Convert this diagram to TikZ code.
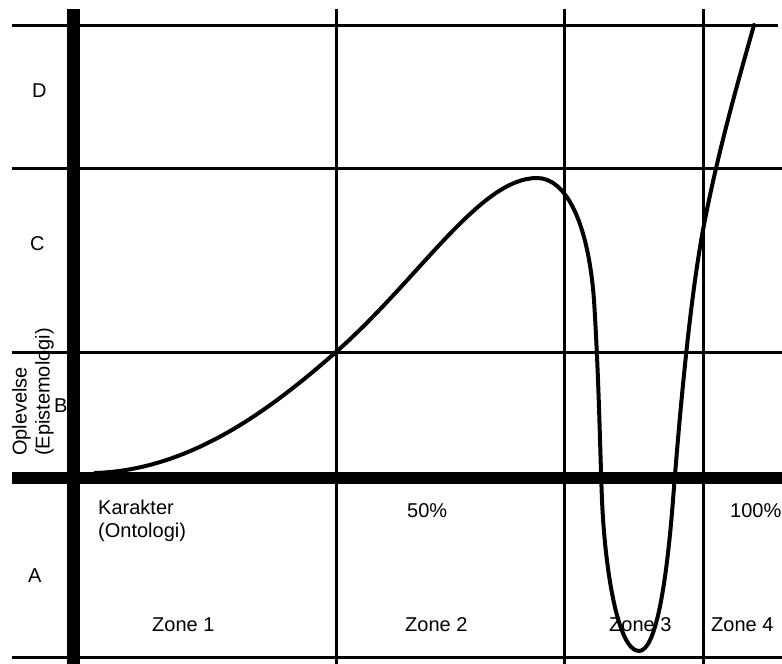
\documentclass[tikz,border=0pt]{standalone}
\usepackage{fontspec}
\setmainfont{Liberation Sans}
\begin{document}
\begin{tikzpicture}[x=1pt,y=-1pt,
  gridline/.style={line width=3pt},
  heavyline/.style={line width=12.5pt},
  curveline/.style={line width=4pt, line cap=round},
  lbl/.style={font=\fontsize{20}{23}\selectfont, inner sep=0pt, anchor=base west}]
\useasboundingbox (0,0) rectangle (782,664);
% grid coordinates
\coordinate (hl1a) at (12,25);  \coordinate (hl1b) at (778,25);
\coordinate (hl2a) at (12,168); \coordinate (hl2b) at (782,168);
\coordinate (hl3a) at (12,352); \coordinate (hl3b) at (782,352);
\coordinate (hl4a) at (12,478); \coordinate (hl4b) at (782,478);
\coordinate (hl5a) at (12,657); \coordinate (hl5b) at (782,657);
\coordinate (vl0a) at (73.5,9); \coordinate (vl0b) at (73.5,664);
\coordinate (vl1a) at (336,9);  \coordinate (vl1b) at (336,664);
\coordinate (vl2a) at (564.5,9);\coordinate (vl2b) at (564.5,664);
\coordinate (vl3a) at (703,9);  \coordinate (vl3b) at (703,664);
% thin grid
\draw[gridline] (hl1a) -- (hl1b);
\draw[gridline] (hl2a) -- (hl2b);
\draw[gridline] (hl3a) -- (hl3b);
\draw[gridline] (hl5a) -- (hl5b);
\draw[gridline] (vl1a) -- (vl1b);
\draw[gridline] (vl2a) -- (vl2b);
\draw[gridline] (vl3a) -- (vl3b);
% heavy axes
\draw[heavyline] (hl4a) -- (hl4b);
\draw[line width=13pt] (vl0a) -- (vl0b);
% curve
\coordinate (c0) at (95,473);
\coordinate (c1) at (336,352);
\coordinate (c2) at (537,178);
\coordinate (c3) at (594,300);
\coordinate (c4) at (602,500);
\coordinate (c5) at (639,651);
\coordinate (c6) at (673,500);
\coordinate (c7) at (703,230);
\coordinate (c8) at (754,25);
\draw[curveline] (c0) .. controls (190,470) and (270,410) .. (c1)
  .. controls (420,278) and (480,178) .. (c2)
  .. controls (565,178) and (588,220) .. (c3)
  .. controls (599,380) and (600,450) .. (c4)
  .. controls (605,570) and (618,651) .. (c5)
  .. controls (655,651) and (666,590) .. (c6)
  .. controls (680,410) and (690,300) .. (c7)
  .. controls (718,150) and (740,75) .. (c8);
% labels
\node[lbl] (lD) at (32,97) {D};
\node[lbl] (lC) at (30,250) {C};
\node[lbl] (lB) at (54,412) {B};
\node[lbl] (lA) at (28,582) {A};
\node[font=\fontsize{20}{23}\selectfont, inner sep=0pt, rotate=90, align=left] (opl) at (33,392) {Oplevelse\\(Epistemologi)};
\node[lbl, align=left] (kar) at (98,537) {Karakter\\(Ontologi)};
\node[lbl] (p50) at (407,517) {50\%};
\node[lbl] (p100) at (730,517) {100\%};
\node[lbl] (z1) at (152,631) {Zone 1};
\node[lbl] (z2) at (405,631) {Zone 2};
\node[lbl] (z3) at (609,631) {Zone 3};
\node[lbl] (z4) at (711,631) {Zone 4};
\end{tikzpicture}
\end{document}
